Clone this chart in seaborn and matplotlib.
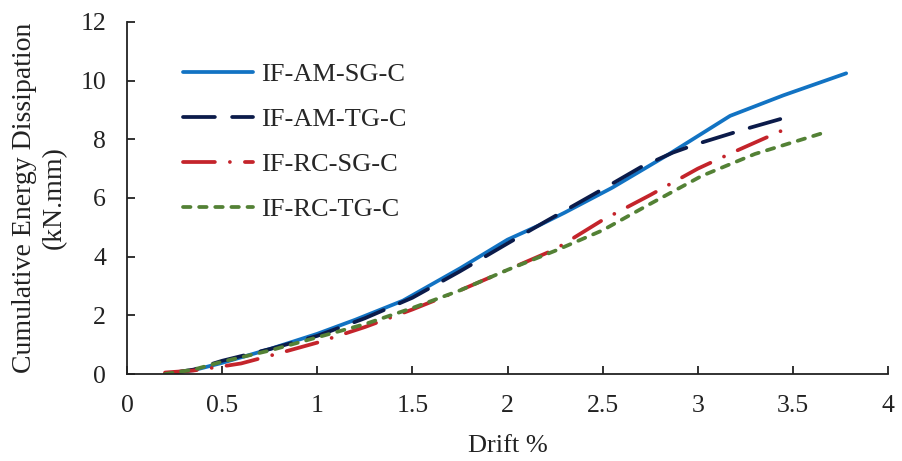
import pandas as pd
import numpy as np
import matplotlib
matplotlib.use("Agg")
import matplotlib.pyplot as plt
import seaborn as sns

# values
series_names = ["IF-AM-SG-C", "IF-AM-TG-C", "IF-RC-SG-C", "IF-RC-TG-C"]

am_sg_drift = [0.2, 0.35, 0.5, 0.75, 1.0, 1.2, 1.45, 1.75, 2.0, 2.17, 2.3, 2.55, 2.85, 3.17, 3.45, 3.78]
am_sg_energy = [0.0, 0.13, 0.38, 0.85, 1.37, 1.85, 2.5, 3.6, 4.58, 5.08, 5.5, 6.35, 7.5, 8.8, 9.5, 10.25]

am_tg_drift = [0.2, 0.35, 0.5, 0.75, 1.0, 1.25, 1.5, 1.75, 2.0, 2.2, 2.5, 2.7, 2.87, 3.0, 3.25, 3.52]
am_tg_energy = [0.0, 0.15, 0.45, 0.85, 1.3, 1.9, 2.6, 3.5, 4.45, 5.2, 6.3, 7.05, 7.55, 7.85, 8.35, 8.85]

rc_sg_drift = [0.2, 0.35, 0.5, 0.6, 0.75, 1.0, 1.25, 1.5, 1.75, 2.0, 2.25, 2.5, 2.75, 3.0, 3.2, 3.45]
rc_sg_energy = [0.05, 0.12, 0.26, 0.36, 0.62, 1.07, 1.6, 2.2, 2.85, 3.55, 4.25, 5.25, 6.1, 7.0, 7.6, 8.32]

rc_tg_drift = [0.2, 0.35, 0.5, 0.75, 1.0, 1.25, 1.5, 1.75, 2.0, 2.25, 2.5, 2.75, 3.02, 3.3, 3.65]
rc_tg_energy = [0.0, 0.15, 0.42, 0.8, 1.25, 1.7, 2.25, 2.85, 3.55, 4.2, 4.9, 5.8, 6.75, 7.5, 8.2]

x_ticks = [0, 0.5, 1, 1.5, 2, 2.5, 3, 3.5, 4]
x_tick_labels = ["0", "0.5", "1", "1.5", "2", "2.5", "3", "3.5", "4"]
y_ticks = [0, 2, 4, 6, 8, 10, 12]

df = pd.concat([
    pd.DataFrame({"Drift": am_sg_drift, "Energy": am_sg_energy, "Specimen": series_names[0]}),
    pd.DataFrame({"Drift": am_tg_drift, "Energy": am_tg_energy, "Specimen": series_names[1]}),
    pd.DataFrame({"Drift": rc_sg_drift, "Energy": rc_sg_energy, "Specimen": series_names[2]}),
    pd.DataFrame({"Drift": rc_tg_drift, "Energy": rc_tg_energy, "Specimen": series_names[3]}),
], ignore_index=True)

colors = {
    "IF-AM-SG-C": "#1273C3",
    "IF-AM-TG-C": "#0B1B4A",
    "IF-RC-SG-C": "#C4242B",
    "IF-RC-TG-C": "#538135",
}
dash_map = {
    "IF-AM-SG-C": "",
    "IF-AM-TG-C": (8.5, 4.6),
    "IF-RC-SG-C": (8.5, 4.0, 0.01, 4.0),
    "IF-RC-TG-C": (2.0, 2.3),
}

sns.set_style("ticks")
plt.rcParams["font.family"] = ["Liberation Serif", "DejaVu Serif"]
plt.rcParams["lines.dash_capstyle"] = "round"
plt.rcParams["lines.solid_capstyle"] = "round"

fig = plt.figure(figsize=(9.02, 4.61), dpi=100)
ax = fig.add_axes([0.1408, 0.1887, 0.8437, 0.7636])

sns.lineplot(
    data=df, x="Drift", y="Energy", hue="Specimen", style="Specimen",
    palette=colors, dashes=dash_map, hue_order=series_names,
    style_order=series_names, linewidth=2.7, sort=False, ax=ax,
)

ax.set_xlim(0, 4)
ax.set_ylim(0, 12)
ax.set_xticks(x_ticks)
ax.set_xticklabels(x_tick_labels)
ax.set_yticks(y_ticks)
ax.tick_params(direction="in", length=6, width=1.3, colors="#222222",
               labelcolor="#222222", labelsize=18.5)
ax.tick_params(axis="y", pad=15)
ax.tick_params(axis="x", pad=15)
for side in ["left", "bottom"]:
    ax.spines[side].set_linewidth(1.3)
    ax.spines[side].set_color("#222222")
sns.despine(ax=ax)

ax.set_xlabel("Drift %", fontsize=19, color="#222222", labelpad=13)
ax.set_ylabel("Cumulative Energy Dissipation\n(kN.mm)", fontsize=20,
              color="#222222", labelpad=10, linespacing=1.25)

handles, labels = ax.get_legend_handles_labels()
ax.legend(handles, labels, loc="upper left", bbox_to_anchor=(0.074, 0.885),
          frameon=False, fontsize=19, handlelength=2.65, handletextpad=0.3,
          labelspacing=0.82, borderpad=0, borderaxespad=0)

fig.savefig("out.png", dpi=100)
plt.close(fig)
